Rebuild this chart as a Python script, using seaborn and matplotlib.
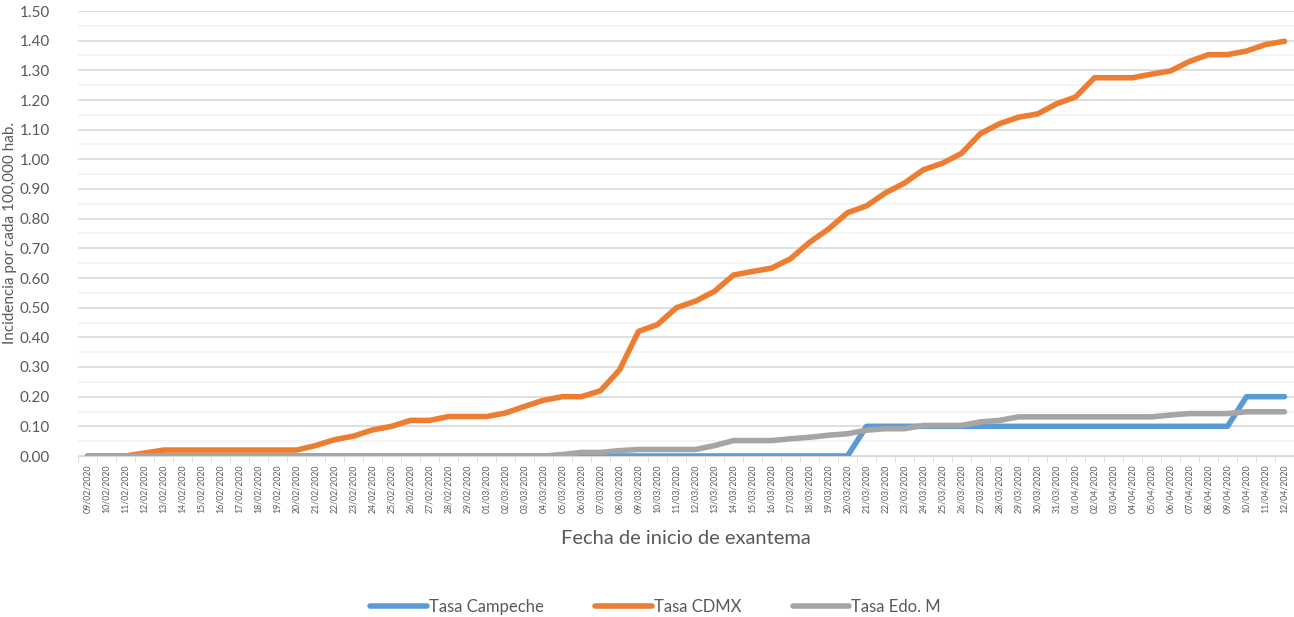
import numpy as np
import pandas as pd
import matplotlib
matplotlib.use("Agg")
import matplotlib.pyplot as plt
import seaborn as sns

# fechas de inicio de exantema (09/02/2020 - 12/04/2020)
fechas = pd.date_range("2020-02-09", "2020-04-12", freq="D").strftime("%d/%m/%Y").tolist()

tasa_campeche = [0.0] * 41 + [0.10] * 20 + [0.20] * 3

tasa_cdmx = [
    0.00, 0.00, 0.00, 0.01, 0.02, 0.02, 0.02, 0.02, 0.02, 0.02, 0.02, 0.02,
    0.035, 0.055, 0.067, 0.088, 0.10, 0.12, 0.12, 0.133, 0.133, 0.133, 0.145,
    0.167, 0.188, 0.20, 0.20, 0.22, 0.29, 0.42, 0.443, 0.50, 0.522, 0.555,
    0.61, 0.622, 0.633, 0.665, 0.72, 0.765, 0.82, 0.843, 0.887, 0.92, 0.965,
    0.987, 1.02, 1.087, 1.12, 1.142, 1.153, 1.187, 1.21, 1.275, 1.275, 1.275,
    1.287, 1.298, 1.33, 1.353, 1.353, 1.365, 1.387, 1.398,
]

tasa_edomex = [
    0.0] * 25 + [
    0.005, 0.012, 0.012, 0.018, 0.022, 0.022, 0.022, 0.022, 0.035, 0.052,
    0.052, 0.052, 0.058, 0.063, 0.07, 0.075, 0.087, 0.092, 0.092, 0.103,
    0.103, 0.103, 0.115, 0.12, 0.132, 0.132, 0.132, 0.132, 0.132, 0.132,
    0.132, 0.132, 0.138, 0.143, 0.143, 0.143, 0.149, 0.149, 0.149,
]

series = ["Tasa Campeche", "Tasa CDMX", "Tasa Edo. M"]
colores = ["#5B9BD5", "#ED7D31", "#A5A5A5"]

df = pd.DataFrame({
    "pos": list(range(len(fechas))) * 3,
    "valor": tasa_campeche + tasa_cdmx + tasa_edomex,
    "serie": np.repeat(series, len(fechas)),
})

sns.set_style("white")
plt.rcParams["font.family"] = ["Lato", "DejaVu Sans"]
texto = "#595959"

fig = plt.figure(figsize=(12.94, 6.17), dpi=100)
ax = fig.add_axes([78 / 1294, 1 - 456 / 617, (1294 - 78) / 1294, (456 - 11) / 617])

sns.lineplot(data=df, x="pos", y="valor", hue="serie", palette=colores,
             hue_order=series, linewidth=4, sort=False, ax=ax,
             solid_capstyle="round")

ax.set_xlim(-0.5, len(fechas) - 0.5)
ax.set_ylim(0, 1.5)
ax.set_yticks(np.arange(0, 1.51, 0.10))
ax.set_yticklabels([f"{v:.2f}" for v in np.arange(0, 1.51, 0.10)], fontsize=11, color=texto)
ax.set_yticks(np.arange(0.05, 1.5, 0.10), minor=True)
ax.set_xticks(range(len(fechas)))
ax.set_xticklabels(fechas, rotation=90, fontsize=6.3, color=texto)
ax.set_xticks(np.arange(-0.5, len(fechas), 1), minor=True)

ax.grid(axis="y", which="major", color="#D9D9D9", linewidth=1.2)
ax.grid(axis="y", which="minor", color="#F2F2F2", linewidth=1.2)
ax.set_axisbelow(True)
for s in ["top", "right", "left"]:
    ax.spines[s].set_visible(False)
ax.spines["bottom"].set_color("#D9D9D9")
ax.tick_params(axis="y", length=0, pad=20)
ax.tick_params(axis="x", which="major", length=0, pad=6)
ax.tick_params(axis="x", which="minor", length=4, color="#D9D9D9", bottom=True)

ax.set_xlabel("Fecha de inicio de exantema", fontsize=14.5, color=texto, labelpad=12)
ax.set_ylabel("Incidencia por cada 100,000 hab.", fontsize=11, color=texto, labelpad=2)

ax.legend(loc="upper center", bbox_to_anchor=(0.475, -0.287), ncol=3, frameon=False,
          fontsize=12, handlelength=3.4, handletextpad=0.1, columnspacing=3.1,
          labelcolor=texto)

fig.savefig("out.png", dpi=100)
